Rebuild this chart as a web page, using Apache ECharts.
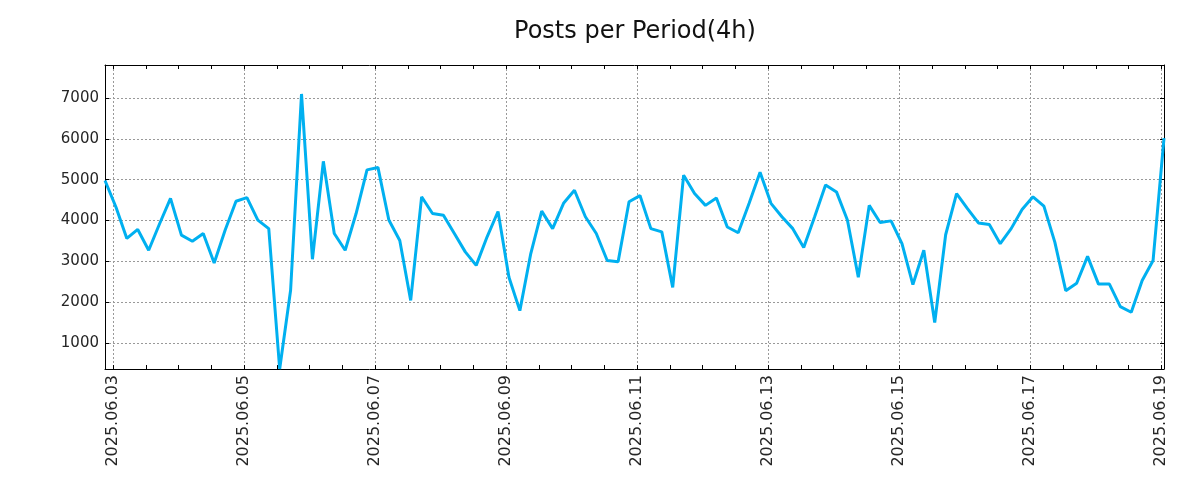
<!DOCTYPE html>
<html>
<head>
<meta charset="utf-8">
<script src="https://cdn.jsdelivr.net/npm/echarts@6/dist/echarts.min.js"></script>
<style>html,body{margin:0;padding:0;background:#fff;}#chart{width:1200px;height:500px;}</style>
</head>
<body>
<div id="chart"></div>
<script>
// ---- data ----
const titleText = 'Posts per Period(4h)';
const periodHours = 4;
const firstPointHour = -3; // 2025.06.02 21:00, in hours relative to 2025.06.03 00:00
const postsPerPeriod = [
  4980, 4330, 3560, 3780, 3270, 3920, 4540, 3640, 3490, 3680, 2960, 3760,
  4470, 4560, 4010, 3800, 360, 2290, 7100, 3050, 5450, 3680, 3270, 4170,
  5240, 5300, 4010, 3510, 2040, 4580, 4170, 4130, 3680, 3230, 2900, 3600,
  4220, 2610, 1790, 3190, 4230, 3800, 4420, 4740, 4090, 3680, 3020, 2990,
  4460, 4610, 3800, 3720, 2360, 5110, 4660, 4370, 4550, 3840, 3700, 4420,
  5180, 4420, 4090, 3800, 3340, 4090, 4870, 4700, 4010, 2610, 4370, 3950,
  3990, 3430, 2430, 3270, 1500, 3650, 4660, 4290, 3940, 3900, 3430, 3800,
  4270, 4580, 4350, 3470, 2280, 2460, 3120, 2440, 2440, 1890, 1750, 2530,
  3020, 6020
];
const xTickLabels = ['2025.06.03','2025.06.05','2025.06.07','2025.06.09','2025.06.11',
                     '2025.06.13','2025.06.15','2025.06.17','2025.06.19'];
const xMajorStepHours = 48;
const xMinorStepHours = 12;
const yTickValues = [1000, 2000, 3000, 4000, 5000, 6000, 7000];

// ---- derived ----
const seriesData = postsPerPeriod.map((v, i) => [firstPointHour + i * periodHours, v]);
const xMin = firstPointHour;
const xMax = firstPointHour + (postsPerPeriod.length - 1) * periodHours;
const yMin = Math.min(...postsPerPeriod);
const yMax = Math.max(...postsPerPeriod) * 1.1;
const majorX = xTickLabels.map((_, i) => i * xMajorStepHours);
const minorX = [];
for (let h = 0; h <= xMax; h += xMinorStepHours) minorX.push(h);

const FONT = 'DejaVu Sans';
const TXT = '#262626';
const gridLine = { show: true, lineStyle: { color: '#999999', type: [2, 2], width: 1 } };
const spine = { show: true, onZero: false, lineStyle: { color: '#000', width: 1 } };

function tickAxisX(pos, values, showLine) {
  return {
    type: 'value', position: pos, min: xMin, max: xMax,
    axisLine: showLine ? spine : { show: false },
    axisTick: { show: true, inside: true, length: 4, customValues: values, lineStyle: { color: '#000', width: 1 } },
    axisLabel: { show: false },
    splitLine: { show: false }
  };
}

const chart = echarts.init(document.getElementById('chart'), null, { renderer: 'canvas' });
chart.setOption({
  animation: false,
  backgroundColor: '#ffffff',
  title: {
    text: titleText,
    left: 630,
    top: 15,
    textAlign: 'center',
    textStyle: { fontFamily: FONT, fontSize: 24, fontWeight: 'normal', color: '#111' }
  },
  grid: { left: 105, right: 36, top: 65, bottom: 131, containLabel: false },
  xAxis: [
    {
      type: 'value', position: 'bottom', min: xMin, max: xMax,
      axisLine: spine,
      axisTick: { show: false, customValues: majorX },
      axisLabel: {
        show: true, customValues: majorX, rotate: 90, margin: 6,
        fontFamily: FONT, fontSize: 16, color: TXT,
        formatter: v => xTickLabels[Math.round(v / xMajorStepHours)]
      },
      splitLine: gridLine
    },
    tickAxisX('bottom', minorX, false),
    tickAxisX('top', minorX, true)
  ],
  yAxis: [
    {
      type: 'value', position: 'left', min: yMin, max: yMax,
      axisLine: spine,
      axisTick: { show: true, inside: true, length: 4, customValues: yTickValues, lineStyle: { color: '#000', width: 1 } },
      axisLabel: { show: true, customValues: yTickValues, margin: 6, fontFamily: FONT, fontSize: 15, color: TXT,
                   formatter: v => String(Math.round(v)) },
      splitLine: gridLine
    },
    {
      type: 'value', position: 'right', min: yMin, max: yMax,
      axisLine: spine,
      axisTick: { show: true, inside: true, length: 4, customValues: yTickValues, lineStyle: { color: '#000', width: 1 } },
      axisLabel: { show: false },
      splitLine: { show: false }
    }
  ],
  series: [{
    type: 'line',
    xAxisIndex: 0, yAxisIndex: 0,
    data: seriesData,
    showSymbol: false,
    symbol: 'none',
    lineStyle: { color: '#00b0f0', width: 3 },
    clip: true,
    z: 5
  }]
});
</script>
</body>
</html>
